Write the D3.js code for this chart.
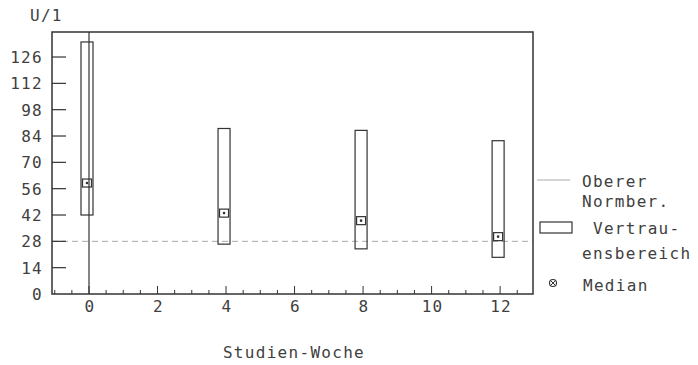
<!DOCTYPE html>
<html>
<head>
<meta charset="utf-8">
<script src="https://cdn.jsdelivr.net/npm/d3@7"></script>
<style>
  body { margin: 0; background: #fff; }
  text { font-family: "DejaVu Sans Mono", monospace; fill: #404040; font-size: 16px; letter-spacing: 1.3px; }
</style>
</head>
<body>
<svg id="chart"></svg>
<script>
// values
const weeks = [0, 4, 8, 12];
const upper = [134, 88, 87, 81.5];
const lower = [42, 26.5, 24, 19.5];
const median = [59, 43, 39, 30.5];
const normUpper = 28;
const yTicks = [0, 14, 28, 42, 56, 70, 84, 98, 112, 126];
const xTicks = [0, 2, 4, 6, 8, 10, 12];

const width = 698, height = 365;
const svg = d3.select('#chart').attr('width', width).attr('height', height);

const x = d3.scaleLinear().domain([-1.08, 12.96]).range([52, 533]);
const y = d3.scaleLinear().domain([0, 139.3]).range([294, 32]);

const ink = '#333';

// normal upper limit (dotted grey line)
svg.append('line')
  .attr('x1', x.range()[0]).attr('x2', x.range()[1])
  .attr('y1', y(normUpper)).attr('y2', y(normUpper))
  .attr('stroke', '#aaa').attr('stroke-width', 1)
  .attr('stroke-dasharray', '6,4');

// frame
svg.append('rect')
  .attr('x', x.range()[0]).attr('y', y.range()[1])
  .attr('width', x.range()[1] - x.range()[0])
  .attr('height', y.range()[0] - y.range()[1])
  .attr('fill', 'none').attr('stroke', ink).attr('stroke-width', 1.5);

// y ticks (inside) + labels
const gy = svg.append('g');
gy.selectAll('line').data(yTicks.filter(d => d > 0)).join('line')
  .attr('x1', x.range()[0]).attr('x2', x.range()[0] + 14)
  .attr('y1', d => y(d)).attr('y2', d => y(d))
  .attr('stroke', ink).attr('stroke-width', 1.2);
gy.selectAll('text').data(yTicks).join('text')
  .attr('x', 43).attr('y', d => y(d) + 6)
  .attr('text-anchor', 'end')
  .text(d => d);

svg.append('text').attr('x', 30).attr('y', 21).text('U/1');

// x ticks: minor every 0.5, major every 2
const minor = d3.range(-1, 13, 0.5);
svg.append('g').selectAll('line').data(minor).join('line')
  .attr('x1', d => x(d)).attr('x2', d => x(d))
  .attr('y1', y(0)).attr('y2', d => y(0) - (d % 2 === 0 ? 8 : 4))
  .attr('stroke', ink).attr('stroke-width', 1);
svg.append('g').selectAll('text').data(xTicks).join('text')
  .attr('x', d => x(d) + 1).attr('y', 312)
  .attr('text-anchor', 'middle')
  .text(d => d);

svg.append('text').attr('x', 294).attr('y', 358)
  .attr('text-anchor', 'middle').text('Studien-Woche');

// vertical line at week 0
svg.append('line')
  .attr('x1', x(0)).attr('x2', x(0))
  .attr('y1', y(0)).attr('y2', y.range()[1])
  .attr('stroke', ink).attr('stroke-width', 1.2);

// confidence boxes
const bw = 12;
svg.append('g').selectAll('rect').data(weeks).join('rect')
  .attr('x', (d, i) => x(d) - bw / 2 - 2)
  .attr('y', (d, i) => y(upper[i]))
  .attr('width', bw)
  .attr('height', (d, i) => y(lower[i]) - y(upper[i]))
  .attr('fill', 'none').attr('stroke', ink).attr('stroke-width', 1.2);

// medians
const med = svg.append('g').selectAll('g').data(weeks).join('g')
  .attr('transform', (d, i) => `translate(${x(d) - 2},${y(median[i])})`);
med.append('rect').attr('x', -4.5).attr('y', -4).attr('width', 9).attr('height', 8)
  .attr('fill', 'none').attr('stroke', ink).attr('stroke-width', 1.2);
med.append('circle').attr('r', 1.3).attr('fill', ink);

// legend
svg.append('line').attr('x1', 537).attr('x2', 570).attr('y1', 180).attr('y2', 180)
  .attr('stroke', '#aaa').attr('stroke-width', 1);
svg.append('text').attr('x', 582).attr('y', 187).text('Oberer');
svg.append('text').attr('x', 582).attr('y', 207).text('Normber.');

svg.append('rect').attr('x', 540).attr('y', 222).attr('width', 32).attr('height', 11)
  .attr('fill', 'none').attr('stroke', ink).attr('stroke-width', 1.2);
svg.append('text').attr('x', 593).attr('y', 234).text('Vertrau-');
svg.append('text').attr('x', 582).attr('y', 259).text('ensbereich');

const lm = svg.append('g').attr('transform', 'translate(553,283)');
lm.append('circle').attr('r', 3.5).attr('fill', 'none').attr('stroke', ink).attr('stroke-width', 1.1);
lm.append('path').attr('d', 'M-2.4,-2.4L2.4,2.4M-2.4,2.4L2.4,-2.4').attr('stroke', ink).attr('stroke-width', 1);
svg.append('text').attr('x', 583).attr('y', 291).text('Median');
</script>
</body>
</html>
